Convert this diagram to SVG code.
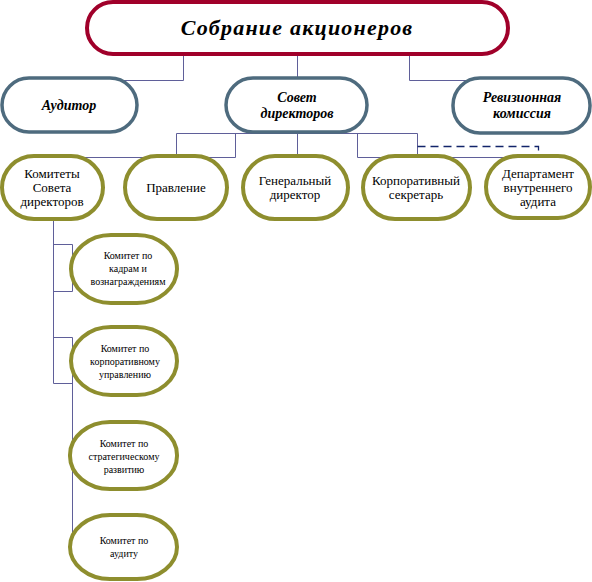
<svg xmlns="http://www.w3.org/2000/svg" width="592" height="582" viewBox="0 0 592 582">
<style>
.top{fill:#fff;stroke:#a0002a;stroke-width:4}
.l1{fill:#fff;stroke:#4e6b7e;stroke-width:3.5}
.l2{fill:#fff;stroke:#8e8e2e;stroke-width:4}
.c{fill:none;stroke:#5f5f99;stroke-width:1}
.d{fill:none;stroke:#12246a;stroke-width:1.3;stroke-dasharray:8,5}
text{font-family:"Liberation Serif","DejaVu Serif","Times New Roman",serif;text-anchor:middle;fill:#000}
.tt{font-size:22px;font-weight:bold;font-style:italic;letter-spacing:1.2px}
.t1{font-size:14px;font-weight:bold;font-style:italic}
.t2{font-size:13px}
.t3{font-size:10px}
</style>
<rect width="592" height="582" fill="#fff"/>
<g id="connectors">
<path class="c" d="M183.5,55 V80.5 H110"/>
<path class="c" d="M297.5,55 V78"/>
<path class="c" d="M409.5,55 V80.5 H470"/>
<path class="c" d="M176.5,133.5 H417.5"/>
<path class="c" d="M176.5,133.5 V157"/>
<path class="c" d="M235.5,133.5 V157.5 H83"/>
<path class="c" d="M297.5,133.5 V156"/>
<path class="c" d="M357.5,133.5 V157.5 H510"/>
<path class="c" d="M417.5,133.5 V156"/>
<path class="d" d="M417.5,146.5 H538.5 V154"/>
<path class="c" d="M53.5,219 V383.5"/>
<path class="c" d="M53.5,244.5 H72.5 V291.5 H53.5"/>
<path class="c" d="M53.5,337.5 H72.5 V533"/>
<path class="c" d="M53.5,383.5 H72.5"/>
</g>
<g id="n-sobranie">
<rect class="top" x="87" y="2" width="421" height="52" rx="26"/>
<text class="tt" x="297" y="35">Собрание акционеров</text>
</g>
<g id="n-auditor">
<rect class="l1" x="2" y="78" width="135" height="54" rx="27"/>
<text class="t1" x="69" y="110">Аудитор</text>
</g>
<g id="n-sovet">
<rect class="l1" x="226" y="78" width="141" height="54" rx="27"/>
<text class="t1" x="297" y="102">Совет</text>
<text class="t1" x="297" y="118">директоров</text>
</g>
<g id="n-revizion">
<rect class="l1" x="453" y="78" width="137" height="55" rx="27"/>
<text class="t1" x="522" y="102">Ревизионная</text>
<text class="t1" x="522" y="118">комиссия</text>
</g>
<g id="n-komitety">
<rect class="l2" x="2" y="156" width="101" height="63" rx="32"/>
<text class="t2" x="52" y="178">Комитеты</text>
<text class="t2" x="52" y="192">Совета</text>
<text class="t2" x="52" y="206">директоров</text>
</g>
<g id="n-pravlenie">
<rect class="l2" x="125" y="156" width="102" height="63" rx="32"/>
<text class="t2" x="176" y="192">Правление</text>
</g>
<g id="n-gendir">
<rect class="l2" x="243" y="156" width="105" height="63" rx="32"/>
<text class="t2" x="295" y="185">Генеральный</text>
<text class="t2" x="295" y="199">директор</text>
</g>
<g id="n-korpsek">
<rect class="l2" x="363" y="156" width="107" height="63" rx="32"/>
<text class="t2" x="416" y="185">Корпоративный</text>
<text class="t2" x="416" y="199">секретарь</text>
</g>
<g id="n-departament">
<rect class="l2" x="486" y="156" width="104" height="62" rx="32"/>
<text class="t2" x="538" y="178">Департамент</text>
<text class="t2" x="538" y="192">внутреннего</text>
<text class="t2" x="538" y="206">аудита</text>
</g>
<g id="n-kom-kadry">
<rect class="l2" x="71" y="235" width="106" height="68" rx="40" ry="34"/>
<text class="t3" x="128" y="259">Комитет по</text>
<text class="t3" x="128" y="272">кадрам и</text>
<text class="t3" x="128" y="285">вознаграждениям</text>
</g>
<g id="n-kom-korp">
<rect class="l2" x="71" y="327" width="106" height="68" rx="40" ry="34"/>
<text class="t3" x="125" y="352">Комитет по</text>
<text class="t3" x="125" y="365">корпоративному</text>
<text class="t3" x="125" y="378">управлению</text>
</g>
<g id="n-kom-strat">
<rect class="l2" x="70" y="422" width="107" height="67" rx="40" ry="33"/>
<text class="t3" x="124" y="447">Комитет по</text>
<text class="t3" x="124" y="460">стратегическому</text>
<text class="t3" x="124" y="473">развитию</text>
</g>
<g id="n-kom-audit">
<rect class="l2" x="70" y="515" width="107" height="64" rx="40" ry="32"/>
<text class="t3" x="124" y="544">Комитет по</text>
<text class="t3" x="124" y="557">аудиту</text>
</g>
</svg>
